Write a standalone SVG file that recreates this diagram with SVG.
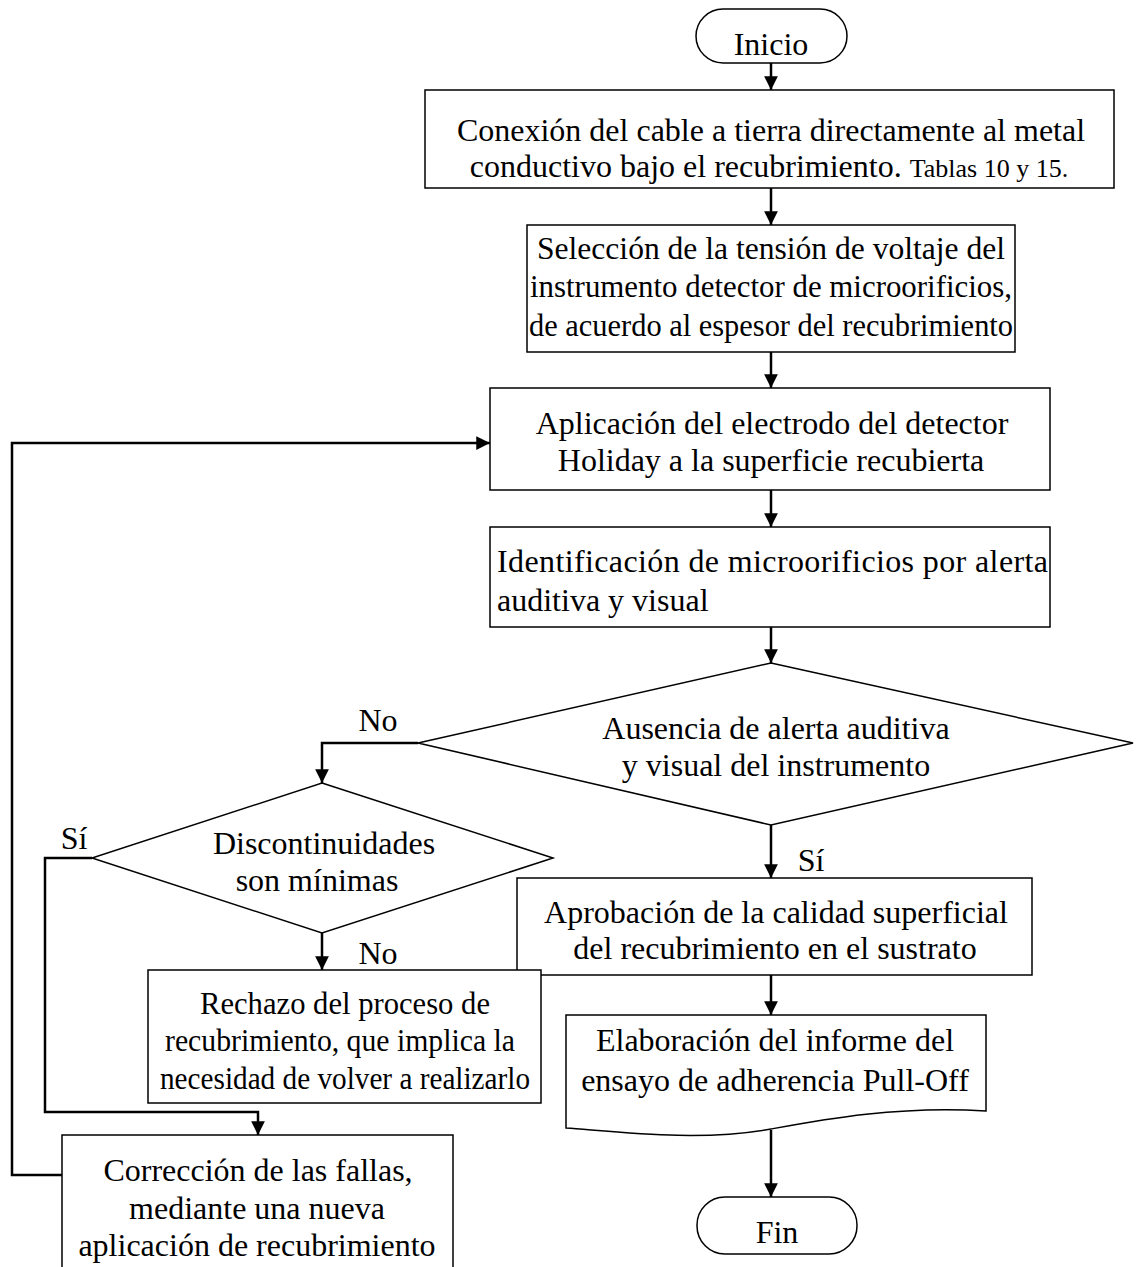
<svg xmlns="http://www.w3.org/2000/svg" width="1136" height="1267" viewBox="0 0 1136 1267">
<style>
  .shape { fill: #fff; stroke: #000; stroke-width: 1.5; }
  .conn { fill: none; stroke: #000; stroke-width: 2.5; }
  text { font-family: "Liberation Serif", "Times New Roman", serif; font-size: 32px; fill: #000; }
  .c { text-anchor: middle; }
  .small { font-size: 26px; }
</style>
<defs>
  <marker id="arrow" viewBox="0 0 10 10" refX="10" refY="5" markerWidth="5.5" markerHeight="5.5" markerUnits="strokeWidth" orient="auto">
    <path d="M0,0 L10,5 L0,10 z" fill="#000"/>
  </marker>
</defs>
<rect width="1136" height="1267" fill="#fff"/>

<g id="connectors">
  <path class="conn" d="M771,63 V90" marker-end="url(#arrow)"/>
  <path class="conn" d="M771,188 V225" marker-end="url(#arrow)"/>
  <path class="conn" d="M771,352 V388" marker-end="url(#arrow)"/>
  <path class="conn" d="M771,490 V527" marker-end="url(#arrow)"/>
  <path class="conn" d="M771,627 V663" marker-end="url(#arrow)"/>
  <path class="conn" d="M418,743 H322 V783" marker-end="url(#arrow)"/>
  <path class="conn" d="M771,825 V878" marker-end="url(#arrow)"/>
  <path class="conn" d="M322,933 V970" marker-end="url(#arrow)"/>
  <path class="conn" d="M92,858 H45 V1112 H258 V1135" marker-end="url(#arrow)"/>
  <path class="conn" d="M771,975 V1015" marker-end="url(#arrow)"/>
  <path class="conn" d="M771,1130 V1197" marker-end="url(#arrow)"/>
  <path class="conn" d="M62,1175 H12 V443 H490" marker-end="url(#arrow)"/>
  <text x="378" y="731" class="c">No</text>
  <text x="811" y="871" class="c">Sí</text>
  <text x="74" y="849" class="c">Sí</text>
  <text x="378" y="964" class="c">No</text>
</g>

<g id="inicio">
  <rect class="shape" x="696" y="9" width="151" height="54" rx="27"/>
  <text x="771" y="55" class="c">Inicio</text>
</g>

<g id="conexion">
  <rect class="shape" x="425" y="90" width="689" height="98"/>
  <text x="771" y="141" class="c">Conexión del cable a tierra directamente al metal</text>
  <text x="769" y="177" class="c">conductivo bajo el recubrimiento. <tspan class="small">Tablas 10 y 15.</tspan></text>
</g>

<g id="seleccion">
  <rect class="shape" x="527" y="225" width="488" height="127"/>
  <text x="771" y="259" class="c" textLength="468" lengthAdjust="spacingAndGlyphs">Selección de la tensión de voltaje del</text>
  <text x="771" y="297" class="c" textLength="482" lengthAdjust="spacingAndGlyphs">instrumento detector de microorificios,</text>
  <text x="771" y="336" class="c" textLength="484" lengthAdjust="spacingAndGlyphs">de acuerdo al espesor del recubrimiento</text>
</g>

<g id="aplicacion">
  <rect class="shape" x="490" y="388" width="560" height="102"/>
  <text x="772" y="434" class="c">Aplicación del electrodo del detector</text>
  <text x="771" y="471" class="c">Holiday a la superficie recubierta</text>
</g>

<g id="identificacion">
  <rect class="shape" x="490" y="527" width="560" height="100"/>
  <text x="497" y="572" textLength="551" lengthAdjust="spacing">Identificación de microorificios por alerta</text>
  <text x="497" y="611">auditiva y visual</text>
</g>

<g id="ausencia">
  <polygon class="shape" points="771,663 1133,743 771,825 418,743"/>
  <text x="776" y="739" class="c">Ausencia de alerta auditiva</text>
  <text x="776" y="776" class="c">y visual del instrumento</text>
</g>

<g id="discontinuidades">
  <polygon class="shape" points="322,783 553,858 322,933 92,858"/>
  <text x="324" y="854" class="c">Discontinuidades</text>
  <text x="317" y="891" class="c">son mínimas</text>
</g>

<g id="aprobacion">
  <rect class="shape" x="517" y="878" width="515" height="97"/>
  <text x="776" y="923" class="c">Aprobación de la calidad superficial</text>
  <text x="775" y="959" class="c">del recubrimiento en el sustrato</text>
</g>

<g id="rechazo">
  <rect class="shape" x="148" y="970" width="393" height="133"/>
  <text x="345" y="1014" class="c" textLength="290" lengthAdjust="spacingAndGlyphs">Rechazo del proceso de</text>
  <text x="340" y="1051" class="c" textLength="350" lengthAdjust="spacingAndGlyphs">recubrimiento, que implica la</text>
  <text x="345" y="1089" class="c" textLength="370" lengthAdjust="spacingAndGlyphs">necesidad de volver a realizarlo</text>
</g>

<g id="informe">
  <path class="shape" d="M566,1015 H986 V1111 C900,1105 820,1120 771,1129 C700,1142 620,1132 566,1128 Z"/>
  <text x="775" y="1051" class="c">Elaboración del informe del</text>
  <text x="775" y="1091" class="c">ensayo de adherencia Pull-Off</text>
</g>

<g id="correccion">
  <rect class="shape" x="62" y="1135" width="391" height="140"/>
  <text x="258" y="1181" class="c">Corrección de las fallas,</text>
  <text x="257" y="1219" class="c">mediante una nueva</text>
  <text x="257" y="1256" class="c">aplicación de recubrimiento</text>
</g>

<g id="fin">
  <rect class="shape" x="697" y="1197" width="160" height="57" rx="28"/>
  <text x="777" y="1243" class="c">Fin</text>
</g>
</svg>
